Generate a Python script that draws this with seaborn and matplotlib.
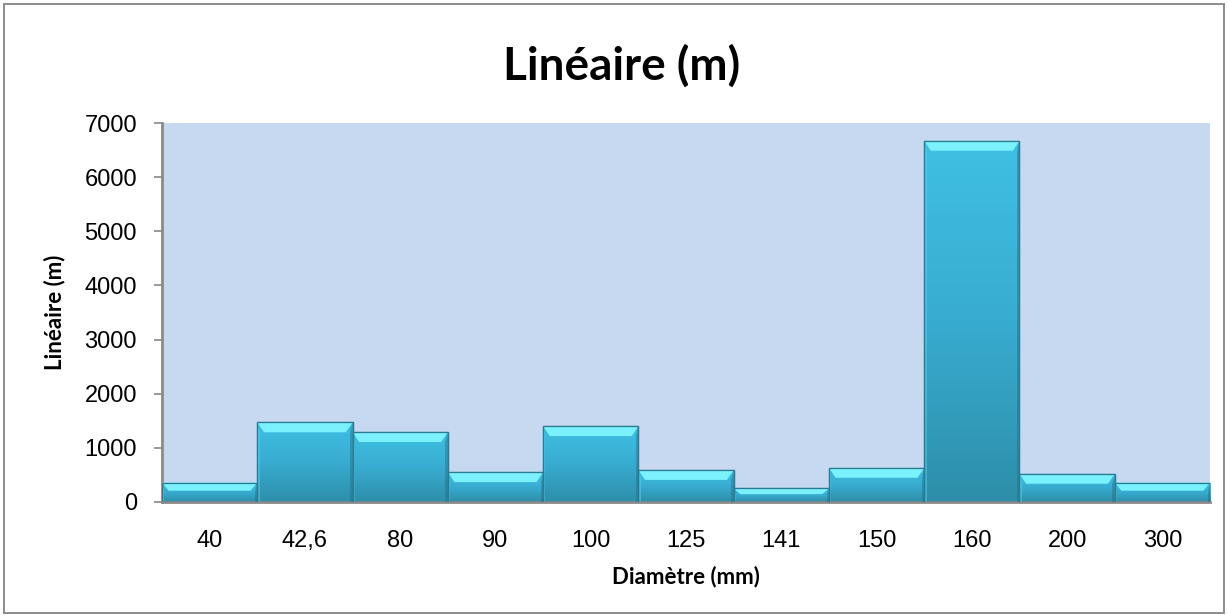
import matplotlib
matplotlib.use("Agg")
import matplotlib.pyplot as plt
from matplotlib.patches import Polygon, Rectangle
from matplotlib.colors import LinearSegmentedColormap
import numpy as np
import seaborn as sns
import pandas as pd

diametres = ["40", "42,6", "80", "90", "100", "125", "141", "150", "160", "200", "300"]
lineaire = [360, 1470, 1290, 550, 1400, 590, 250, 630, 6670, 520, 360]
y_ticks = [0, 1000, 2000, 3000, 4000, 5000, 6000, 7000]

sns.set_theme(style="white")
plt.rcParams["font.family"] = ["Lato", "DejaVu Sans"]
tick_font = ["Liberation Sans", "DejaVu Sans"]

df = pd.DataFrame({"Diamètre": diametres, "Linéaire": lineaire})

fig = plt.figure(figsize=(12.28, 6.15), dpi=100)
ax = fig.add_axes([162 / 1228, 1 - 502 / 615, (1210 - 162) / 1228, (502 - 123) / 615])
ax.set_facecolor("#c6d9f0")

sns.barplot(data=df, x="Diamètre", y="Linéaire", order=diametres, width=1.0,
            color="#3bbbdf", saturation=1, edgecolor="#2b7a92", linewidth=0.9, ax=ax)

ymax = 7000
ax.set_xlim(-0.5, len(diametres) - 0.5)
ax.set_ylim(0, ymax)

# vertical shading inside each bar plus a bevelled top edge
shade = LinearSegmentedColormap.from_list("shade", ["#2d8ea9", "#38acd0", "#3fc0e4"])
grad = np.linspace(0, 1, 256).reshape(-1, 1)
bevel = ymax * 0.026
for p in list(ax.patches):
    x0, w, h = p.get_x(), p.get_width(), p.get_height()
    im = ax.imshow(grad, cmap=shade, origin="lower", aspect="auto",
                   extent=(x0, x0 + w, 0, h), zorder=2.5, interpolation="bilinear")
    im.set_clip_path(p)
    inset = w * 0.07
    bh = min(bevel, h * 0.42)
    ax.add_patch(Polygon([(x0, h), (x0 + w, h), (x0 + w - inset, h - bh), (x0 + inset, h - bh)],
                         closed=True, facecolor="#7af1fd", edgecolor="none", zorder=3))
    ax.add_patch(Polygon([(x0 + w, h), (x0 + w, 0), (x0 + w - inset * 0.35, 0), (x0 + w - inset * 0.35, h - bh)],
                         closed=True, facecolor="#236f86", edgecolor="none", alpha=0.45, zorder=3))
    ax.add_patch(Polygon([(x0, h), (x0, 0), (x0 + inset * 0.35, 0), (x0 + inset * 0.35, h - bh)],
                         closed=True, facecolor="#5ad0ee", edgecolor="none", alpha=0.5, zorder=3))
    ax.add_patch(Rectangle((x0, 0), w, h, facecolor="none", edgecolor="#2b7a92",
                           linewidth=0.9, zorder=3.2))

ax.set_xlim(-0.5, len(diametres) - 0.5)
ax.set_ylim(0, ymax)
ax.set_yticks(y_ticks)
ax.set_yticklabels([str(v) for v in y_ticks], fontsize=17, family=tick_font)
ax.set_xticks(range(len(diametres)))
ax.set_xticklabels(diametres, fontsize=17, family=tick_font)
ax.tick_params(axis="y", direction="out", length=6, color="#888888", width=1.2, pad=12, left=True)
ax.tick_params(axis="x", length=0, pad=20)
for lbl in ax.get_xticklabels() + ax.get_yticklabels():
    lbl.set_color("#000000")

for s in ["top", "right"]:
    ax.spines[s].set_visible(False)
for s in ["left", "bottom"]:
    ax.spines[s].set_color("#8a8a8a")
    ax.spines[s].set_linewidth(2)

ax.set_xlabel("Diamètre (mm)", fontsize=16, fontweight="bold", labelpad=10, color="black")
ax.set_ylabel("Linéaire (m)", fontsize=16, fontweight="bold", labelpad=14, color="black")

fig.text(622 / 1228, 1 - 66 / 615, "Linéaire (m)", ha="center", va="center", fontsize=33,
         fontweight="bold", color="black")

fig.add_artist(Rectangle((0.003, 0.004), 0.994, 0.989, transform=fig.transFigure,
                         fill=False, edgecolor="#8c8c8c", linewidth=1.4))

fig.savefig("out.png", dpi=100)
